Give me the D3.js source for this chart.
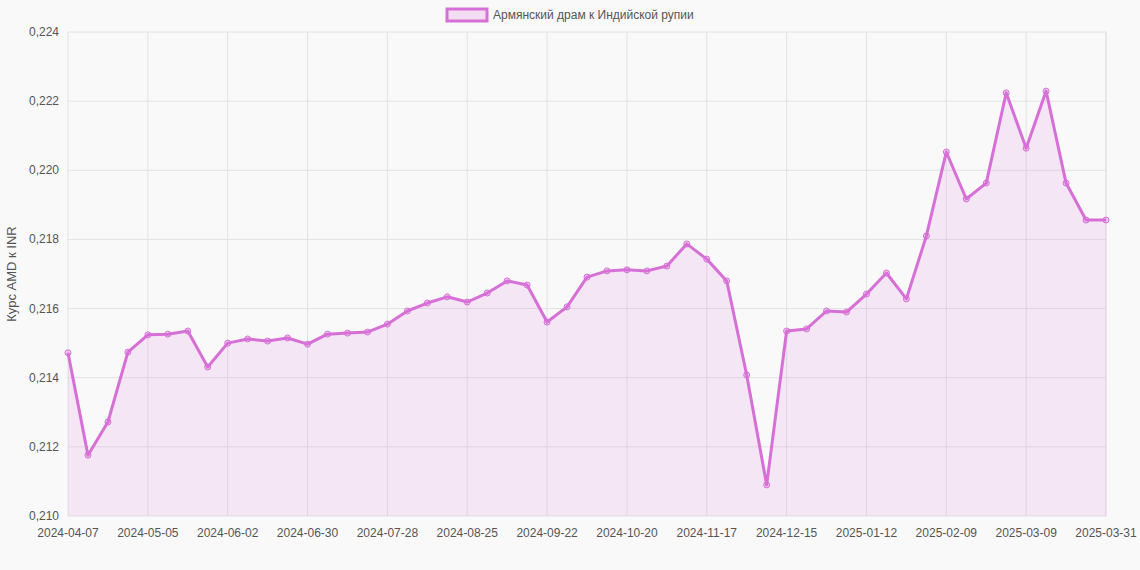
<!DOCTYPE html>
<html><head><meta charset="utf-8">
<script src="https://cdn.jsdelivr.net/npm/d3@7/dist/d3.min.js"></script>
<style>body{margin:0;background:#f9f9f9;font-family:"Liberation Sans",Arial,sans-serif}</style>
</head><body><svg id="c" width="1140" height="570"></svg>
<script>
const seriesName = "Армянский драм к Индийской рупии";
const yTicks = [0.210,0.212,0.214,0.216,0.218,0.220,0.222,0.224];
const values = [0.21472,0.21176,0.21272,0.21474,0.21524,0.21526,0.21535,0.21431,0.21500,0.21512,0.21506,0.21515,0.21497,0.21526,0.21529,0.21532,0.21555,0.21593,0.21616,0.21634,0.21619,0.21645,0.21680,0.21668,0.21561,0.21605,0.21691,0.21709,0.21712,0.21709,0.21723,0.21787,0.21743,0.21680,0.21408,0.21090,0.21535,0.21541,0.21593,0.21590,0.21642,0.21703,0.21628,0.21810,0.22053,0.21917,0.21963,0.22224,0.22064,0.22229,0.21963,0.21856,0.21856];
const dates = [];
{ const d0 = new Date(Date.UTC(2024,3,7));
  for (let i=0;i<52;i++){ const d=new Date(d0.getTime()+i*7*864e5); dates.push(d.toISOString().slice(0,10)); }
  dates.push("2025-03-31"); }
const tickLabels = dates.filter((d,i)=>i%4===0 || i===dates.length-1);

const svg = d3.select("#c");
const L=68,R=1106,T=32,B=516;
const x = d3.scalePoint().domain(dates).range([L,R]);
const y = d3.scaleLinear().domain([0.210,0.224]).range([B,T]);
const fmt = v => d3.format(".3f")(v).replace(".",",");

svg.append("g").selectAll("line").data(yTicks).join("line")
  .attr("x1",L).attr("x2",R).attr("y1",d=>y(d)).attr("y2",d=>y(d)).attr("stroke","#e2e2e2");
svg.append("g").selectAll("line").data(tickLabels).join("line")
  .attr("x1",d=>x(d)).attr("x2",d=>x(d)).attr("y1",T).attr("y2",B).attr("stroke","#e2e2e2");
svg.append("line").attr("x1",R).attr("x2",R).attr("y1",T).attr("y2",B).attr("stroke","#e2e2e2");

svg.append("g").selectAll("text").data(yTicks).join("text")
  .attr("x",L-9).attr("y",d=>y(d)+4).attr("text-anchor","end").attr("font-size",12).attr("fill","#555").text(fmt);
svg.append("g").selectAll("text").data(tickLabels).join("text")
  .attr("x",d=>x(d)).attr("y",B+21).attr("text-anchor","middle").attr("font-size",12).attr("fill","#555").text(d=>d);
svg.append("text").attr("transform",`translate(16,${(T+B)/2}) rotate(-90)`).attr("text-anchor","middle")
  .attr("font-size",13).attr("fill","#555").text("Курс AMD к INR");

const pts = dates.map((d,i)=>[x(d),y(values[i])]);
svg.append("path").attr("d",d3.area().x(p=>p[0]).y0(B).y1(p=>p[1])(pts)).attr("fill","rgba(218,112,214,0.13)");
svg.append("path").attr("d",d3.line()(pts)).attr("fill","none").attr("stroke","#d670d6").attr("stroke-width",3).attr("stroke-linejoin","round");
svg.append("g").selectAll("circle").data(pts).join("circle")
  .attr("cx",p=>p[0]).attr("cy",p=>p[1]).attr("r",3).attr("fill","rgba(218,112,214,0.3)").attr("stroke","#d670d6").attr("stroke-width",1);

svg.append("rect").attr("x",447).attr("y",9).attr("width",40).attr("height",12).attr("fill","rgba(218,112,214,0.2)").attr("stroke","#d670d6").attr("stroke-width",3);
svg.append("text").attr("x",493).attr("y",19).attr("font-size",12).attr("fill","#555").text(seriesName);
</script></body></html>
